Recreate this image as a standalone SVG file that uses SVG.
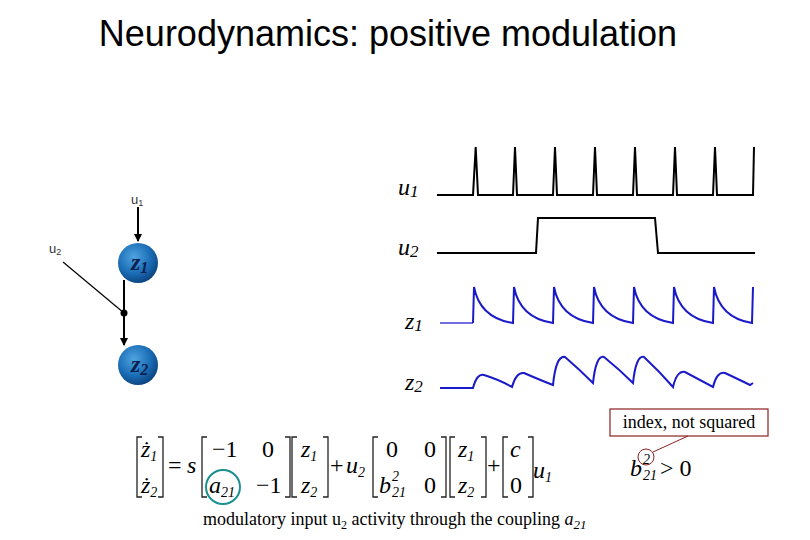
<svg xmlns="http://www.w3.org/2000/svg" width="810" height="540" viewBox="0 0 810 540">
<defs>
<radialGradient id="ball" cx="0.4" cy="0.35" r="0.7">
<stop offset="0" stop-color="#4fa3e0"/><stop offset="0.6" stop-color="#1a6db5"/><stop offset="1" stop-color="#0b3f78"/>
</radialGradient>
<marker id="ah" markerWidth="8" markerHeight="8" refX="7" refY="4" orient="auto" markerUnits="userSpaceOnUse"><path d="M0,0 L8,4 L0,8 z" fill="#000"/></marker>
</defs>
<style>
.ti{font-family:"Liberation Sans",Arial,sans-serif;font-size:36px}
.sm{font-family:"Liberation Sans",Arial,sans-serif;font-size:13px;fill:#333}
.it{font-family:"Liberation Serif","Times New Roman",serif;font-style:italic;font-size:24px}
.nd{font-family:"Liberation Serif","Times New Roman",serif;font-style:italic;font-weight:bold;font-size:24px;fill:#0a2050}
.m{font-family:"Liberation Serif","Times New Roman",serif;font-size:24px}
.mi{font-family:"Liberation Serif","Times New Roman",serif;font-size:24px;font-style:italic}
.s{font-size:14px}
.tx{font-family:"Liberation Serif","Times New Roman",serif;font-size:18px}
.br{fill:none;stroke:#222;stroke-width:1.3}
.k{fill:none;stroke:#000;stroke-width:2}
.b{fill:none;stroke:#1a1ac8;stroke-width:2}
</style>
<text class="ti" x="388" y="46" text-anchor="middle">Neurodynamics: positive modulation</text>

<g id="connectors">
<line x1="138" y1="207" x2="138" y2="241" stroke="#000" stroke-width="2" marker-end="url(#ah)"/>
<line x1="63" y1="262" x2="124" y2="313" stroke="#000" stroke-width="1.2"/>
<line x1="124" y1="280" x2="124" y2="345" stroke="#000" stroke-width="2" marker-end="url(#ah)"/>
<circle cx="124" cy="313" r="3.5" fill="#000"/>
</g>
<g id="node-u1"><text class="sm" x="131" y="204">u<tspan font-size="9" dy="2">1</tspan></text></g>
<g id="node-u2"><text class="sm" x="49" y="253">u<tspan font-size="9" dy="2">2</tspan></text></g>
<g id="node-z1"><circle cx="138" cy="263" r="20" fill="url(#ball)"/><text class="nd" x="131" y="270">z<tspan font-size="16" dy="3">1</tspan></text></g>
<g id="node-z2"><circle cx="138" cy="365" r="20" fill="url(#ball)"/><text class="nd" x="131" y="372">z<tspan font-size="16" dy="3">2</tspan></text></g>

<g id="traces">
<text class="it" x="398" y="195">u<tspan font-size="17" dy="2">1</tspan></text>
<text class="it" x="398" y="255">u<tspan font-size="17" dy="2">2</tspan></text>
<text class="it" x="405" y="329">z<tspan font-size="17" dy="2">1</tspan></text>
<text class="it" x="405" y="390">z<tspan font-size="17" dy="2">2</tspan></text>
<path class="k" d="M437,195 H473 L475.7,147 L478,195 H513 L515,147 L517,195 H553 L555,147 L557,195 H593 L595,147 L597,195 H633 L635,147 L637,195 H673 L675,147 L677,195 H713 L715,147 L717,195 H753 L754,147"/>
<path class="k" d="M437,253 H536 L538,218 H655 L658,253 H755"/>
<path d="M440,323 H473" stroke="#7070e0" stroke-width="2"/>
<path class="b" d="M473,323 L474,287 Q480,318 513,323 L514,287 Q520,318 553,323 L554,287 Q560,318 593,323 L594,287 Q600,318 633,323 L634,287 Q640,318 673,323 L674,287 Q680,318 713,323 L714,287 Q720,318 752,323 L753,287"/>
<path class="b" d="M440,388 H473 Q477,373 484,375 Q500,380 512,387 Q516,372 524,373 Q540,380 553,385 Q556,355 565,357 Q580,370 593,383 Q596,355 604,357 Q620,370 633,383 Q636,355 644,357 Q660,372 673,387 Q677,370 685,372 Q700,380 713,387 Q717,371 725,373 Q740,380 750,385 L753,383"/>
</g>

<g id="equation">
<path class="br" d="M142,437 H137 V497 H142 M158,437 H163 V497 H158"/>
<text class="mi" x="141" y="457">ż<tspan class="s" dy="4">1</tspan></text>
<text class="mi" x="141" y="493">ż<tspan class="s" dy="4">2</tspan></text>
<text class="m" x="168" y="473">=</text><text class="mi" x="187" y="473">s</text>
<path class="br" d="M207,437 H202 V497 H207 M285,437 H290 V497 H285"/>
<text class="m" x="212" y="457">−1</text><text class="m" x="262" y="457">0</text>
<text class="mi" x="209" y="493">a<tspan class="s" dy="4">21</tspan></text><text class="m" x="256" y="493">−1</text>
<circle cx="223" cy="487" r="17" fill="none" stroke="#1a9090" stroke-width="2"/>
<path class="br" d="M297,437 H292 V497 H297 M323,437 H328 V497 H323"/>
<text class="mi" x="301" y="457">z<tspan class="s" dy="4">1</tspan></text>
<text class="mi" x="301" y="493">z<tspan class="s" dy="4">2</tspan></text>
<text class="m" x="330" y="473">+</text><text class="mi" x="346" y="473">u<tspan class="s" dy="4">2</tspan></text>
<path class="br" d="M378,437 H373 V497 H378 M441,437 H446 V497 H441"/>
<text class="m" x="386" y="457">0</text><text class="m" x="424" y="457">0</text>
<text class="mi" x="379" y="493">b<tspan class="s" dx="1" dy="4">21</tspan><tspan class="s" dx="-14" dy="-16">2</tspan></text><text class="m" x="424" y="493">0</text>
<path class="br" d="M455,437 H450 V497 H455 M481,437 H486 V497 H481"/>
<text class="mi" x="458" y="457">z<tspan class="s" dy="4">1</tspan></text>
<text class="mi" x="458" y="493">z<tspan class="s" dy="4">2</tspan></text>
<text class="m" x="487" y="473">+</text>
<path class="br" d="M508,437 H503 V497 H508 M528,437 H533 V497 H528"/>
<text class="mi" x="510" y="457">c</text><text class="m" x="510" y="493">0</text>
<text class="mi" x="533" y="478">u<tspan class="s" dy="4">1</tspan></text>
<text class="mi" x="630" y="476">b<tspan class="s" dx="1" dy="4">21</tspan><tspan class="s" dx="-14" dy="-16">2</tspan></text>
<text class="m" x="660" y="476">&gt; 0</text>
</g>

<g id="callout">
<rect x="610" y="409" width="158" height="27" fill="#fff" stroke="#8b2020" stroke-width="1.2"/>
<text class="tx" x="689" y="428" text-anchor="middle">index, not squared</text>
<line x1="688" y1="436" x2="653" y2="452" stroke="#8b2020" stroke-width="1"/>
<circle cx="646" cy="457" r="8" fill="none" stroke="#8b2020" stroke-width="1"/>
</g>
<text class="tx" x="203" y="525">modulatory input u<tspan font-size="12" dy="4">2</tspan><tspan dy="-4"> activity through the coupling </tspan><tspan font-style="italic">a</tspan><tspan font-style="italic" font-size="13" dy="4">21</tspan></text>
</svg>
